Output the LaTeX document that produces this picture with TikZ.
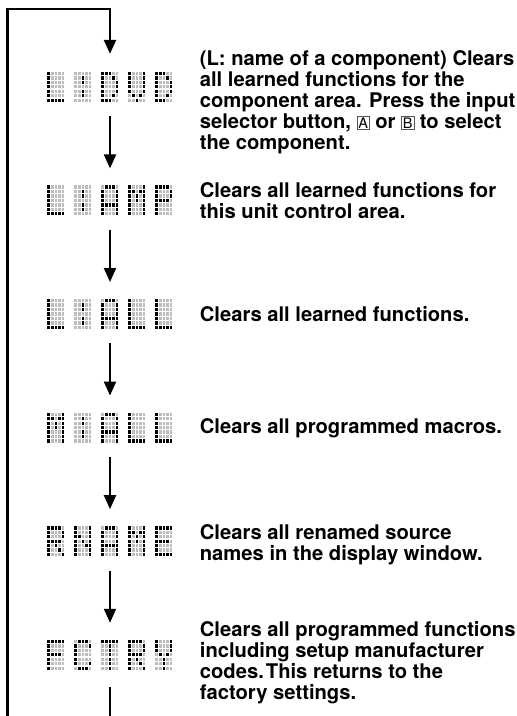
\documentclass[tikz,border=0pt]{standalone}
\usepackage{fontspec}
\setmainfont{TeX Gyre Heros}
\usetikzlibrary{arrows.meta,positioning}
\definecolor{DotOff}{HTML}{BDBDBD}
\definecolor{KeyFrame}{HTML}{555555}
% 5x7 dot patterns, one number per row (bit 16 = left column)
\newcommand{\dmL}{16,16,16,16,16,16,31}
\newcommand{\dmCol}{0,4,4,0,4,4,0}
\newcommand{\dmD}{28,18,17,17,17,18,28}
\newcommand{\dmV}{17,17,17,17,17,10,4}
\newcommand{\dmA}{14,17,17,17,31,17,17}
\newcommand{\dmM}{17,27,21,21,17,17,17}
\newcommand{\dmP}{30,17,17,30,16,16,16}
\newcommand{\dmR}{30,17,17,30,20,18,17}
\newcommand{\dmN}{17,17,25,21,19,17,17}
\newcommand{\dmE}{31,16,16,30,16,16,31}
\newcommand{\dmF}{31,16,16,30,16,16,16}
\newcommand{\dmC}{14,17,16,16,16,17,14}
\newcommand{\dmT}{31,4,4,4,4,4,4}
\newcommand{\dmY}{17,17,17,10,4,4,4}
\newcommand{\dmchar}[2]{%
  \expandafter\let\expandafter\charrows\csname dm#2\endcsname
  \foreach \code [count=\row from 0] in \charrows {
    \foreach \col in {0,...,4} {
      \pgfmathtruncatemacro{\lit}{mod(floor(\code/2^(4-\col)),2)}
      \ifnum\lit=1
        \fill[doton] (#1+\col*3.6,\row*4.45) rectangle ++(2.6,3.3);
      \else
        \fill[dotoff] (#1+\col*3.6,\row*4.45) rectangle ++(2.6,3.3);
      \fi
    }
  }}
\newcommand{\dmword}[6]{%
  \begin{scope}[shift={(#1.north west)}]
    \dmchar{0}{#2}\dmchar{27}{#3}\dmchar{54}{#4}\dmchar{81}{#5}\dmchar{108}{#6}
  \end{scope}}
\newcommand{\keycap}[1]{{\fboxsep=1pt\fboxrule=0.7pt\fcolorbox{KeyFrame}{white}{\mdseries\fontsize{14.5}{14.5}\selectfont#1}}}
\tikzset{display/.style={minimum width=125pt,minimum height=30pt,inner sep=0pt},
  doton/.style={fill=black},dotoff/.style={fill=DotOff},
  desc/.style={anchor=west,align=left,inner sep=0pt,font=\bfseries\fontsize{20.2}{21}\selectfont},
  returnline/.style={line width=2.5pt,-{Triangle[width=12pt,length=14pt]},shorten >=18pt},
  line/.style={line width=2pt},
  flow/.style={line,-{Triangle[width=12pt,length=14pt]},shorten >=17pt},
  fromdisplay/.style={shorten <=14pt}}

\begin{document}
\begin{tikzpicture}[x=1pt,y=-1pt,node distance=27pt]
  \useasboundingbox (0,0) rectangle (517,716);
  \node[display] (dvd) at (110,87) {};
  \node[display,below=83.2pt of dvd] (amp) {};
  \node[display,below=83.2pt of amp] (all) {};
  \node[display,below=83.2pt of all] (mall) {};
  \node[display,below=83.2pt of mall] (rname) {};
  \node[display,below=83.2pt of rname] (fctry) {};
  \dmword{dvd}{L}{Col}{D}{V}{D}
  \dmword{amp}{L}{Col}{A}{M}{P}
  \dmword{all}{L}{Col}{A}{L}{L}
  \dmword{mall}{M}{Col}{A}{L}{L}
  \dmword{rname}{R}{N}{A}{M}{E}
  \dmword{fctry}{F}{C}{T}{R}{Y}
  % descriptions
  \node[desc,right=of dvd,yshift=-15pt] (dvdtext) {(L: name of a component) Clears\\all learned functions for the\\component area. Press the input\\selector button, \keycap{A} or \keycap{B} to select\\the component.};
  \node[desc,right=of amp] (amptext) {Clears all learned functions for\\this unit control area.};
  \node[desc,right=of all] (alltext) {Clears all learned functions.};
  \node[desc,right=of mall] (malltext) {Clears all programmed macros.};
  \node[desc,right=of rname,yshift=-3pt] (rnametext) {Clears all renamed source\\names in the display window.};
  \node[desc,right=of fctry,yshift=-8pt] (fctrytext) {Clears all programmed functions\\including setup manufacturer\\codes.\hspace{0.1em}This returns to the\\factory settings.};
  % return loop and arrows
  \coordinate (loopstart) at (7.5,716);
  \coordinate (loopcorner) at (7.5,9);
  \coordinate (loopend) at (110,716);
  \draw[returnline] (loopstart) -- (loopcorner) -| (dvd);
  \draw[flow,fromdisplay] (dvd) -- (amp);
  \draw[flow,fromdisplay] (amp) -- (all);
  \draw[flow,fromdisplay] (all) -- (mall);
  \draw[flow,fromdisplay] (mall) -- (rname);
  \draw[flow,fromdisplay] (rname) -- (fctry);
  \draw[line,shorten <=17pt] (fctry) -- (loopend);
\end{tikzpicture}
\end{document}
